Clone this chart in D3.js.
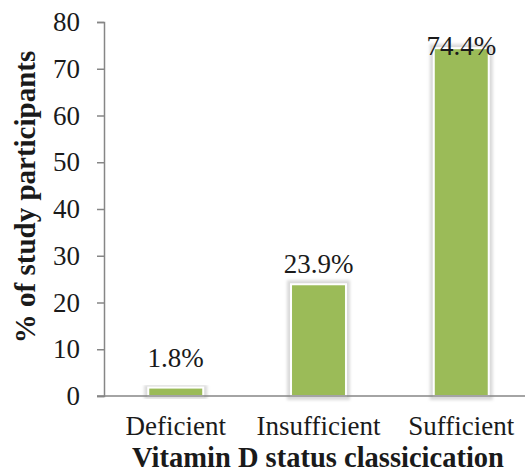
<!DOCTYPE html>
<html><head><meta charset="utf-8">
<script src="https://cdn.jsdelivr.net/npm/d3@7"></script>
<style>html,body{margin:0;padding:0;background:#fff;overflow:hidden}</style>
</head><body>
<svg id="chart" width="525" height="472"></svg>
<script>
const categories = ["Deficient", "Insufficient", "Sufficient"];
const values = [1.8, 23.9, 74.4];
const valueLabels = ["1.8%", "23.9%", "74.4%"];
const yTicks = [0, 10, 20, 30, 40, 50, 60, 70, 80];
const xTitle = "Vitamin D status classicication";
const yTitle = "% of study participants";

const FONT = "Liberation Serif";
const svg = d3.select("#chart").attr("font-family", FONT);
const x = d3.scaleBand().domain(categories).range([104, 533]).paddingInner(0.615).paddingOuter(0.31);
const y = d3.scaleLinear().domain([0, 80]).range([396, 22]);

// bar glow
const defs = svg.append("defs");
const f = defs.append("filter").attr("id","glow").attr("x","-30%").attr("y","-30%").attr("width","160%").attr("height","160%");
f.append("feMorphology").attr("in","SourceAlpha").attr("operator","dilate").attr("radius",3).attr("result","d");
f.append("feGaussianBlur").attr("in","d").attr("stdDeviation",1.5).attr("result","b");
f.append("feFlood").attr("flood-color","#d9d9d9");
f.append("feComposite").attr("in2","b").attr("operator","in").attr("result","s");
const fm = f.append("feMerge");
fm.append("feMergeNode").attr("in","s");
fm.append("feMergeNode").attr("in","SourceGraphic");

svg.selectAll("rect.bar").data(values).join("rect").attr("class","bar")
  .attr("x",(d,i)=>x(categories[i])).attr("width",x.bandwidth())
  .attr("y",d=>y(d)).attr("height",d=>y(0)-y(d))
  .attr("fill","#9BBB59").attr("stroke","#fff").attr("stroke-width",2)
  .attr("filter","url(#glow)");

// y axis
const yAxis = svg.append("g").attr("transform","translate(104,0)")
  .call(d3.axisLeft(y).tickValues(yTicks).tickSize(7).tickPadding(17).tickFormat(d3.format("d")));
yAxis.attr("font-family", FONT).attr("font-size", 27);
yAxis.select(".domain").attr("stroke","#868686").attr("stroke-width",1.5);
yAxis.selectAll(".tick line").attr("stroke","#868686").attr("stroke-width",1.5);
yAxis.selectAll(".tick text").attr("font-family", FONT).attr("font-size",27).attr("fill","#1a1a1a");

// x axis
const xAxis = svg.append("g").attr("transform","translate(0,396)")
  .call(d3.axisBottom(x).tickSize(0).tickPadding(20));
xAxis.attr("font-family", FONT).attr("font-size", 27);
xAxis.select(".domain").attr("stroke","#868686").attr("stroke-width",1.5).attr("d","M97,0H533");
xAxis.selectAll(".tick text").attr("font-family", FONT).attr("font-size",27).attr("fill","#1a1a1a");

// value labels
const labelDy = [-21, -11, 7];
svg.selectAll("text.val").data(values).join("text").attr("class","val")
  .attr("x",(d,i)=>x(categories[i])+x.bandwidth()/2)
  .attr("y",(d,i)=>y(d)+labelDy[i])
  .attr("text-anchor","middle").attr("font-family", FONT).attr("font-size",27).attr("fill","#1a1a1a")
  .text((d,i)=>valueLabels[i]);

// titles
svg.append("text").attr("x",318).attr("y",467).attr("text-anchor","middle")
  .attr("font-family", FONT).attr("font-size",28.5).attr("font-weight","bold").attr("fill","#1a1a1a").text(xTitle);
svg.append("text").attr("transform","translate(35,197) rotate(-90)").attr("text-anchor","middle")
  .attr("font-family", FONT).attr("font-size",29).attr("font-weight","bold").attr("fill","#1a1a1a").text(yTitle);
</script>
</body></html>
